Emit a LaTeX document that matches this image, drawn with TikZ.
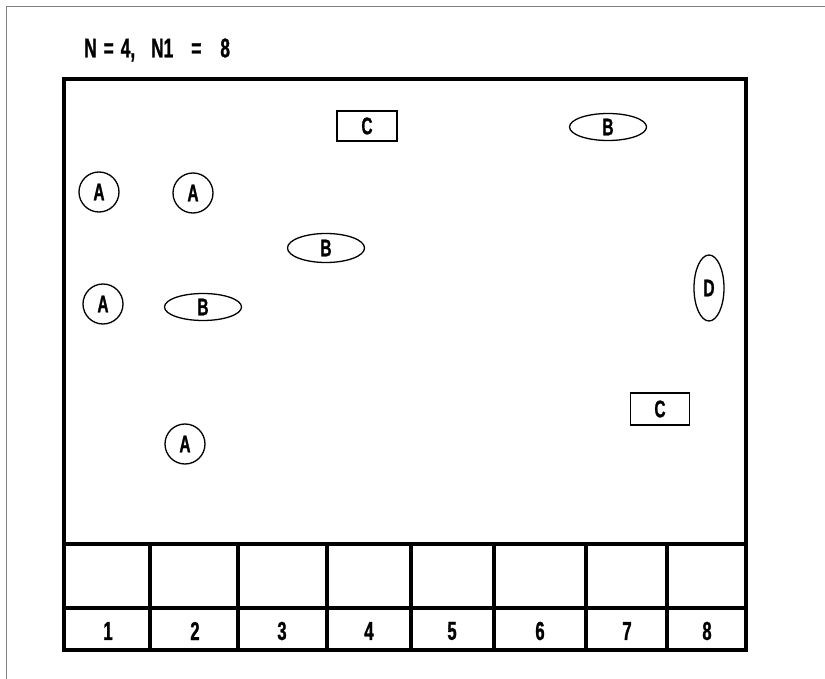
\documentclass[tikz,border=0pt]{standalone}
\usepackage{fontspec}
\newfontfamily\condfont[FakeStretch=0.64,FakeBold=1]{Liberation Sans}
\usetikzlibrary{shapes.geometric}

\begin{document}
\begin{tikzpicture}[x=1pt,y=-1pt,line join=miter,
  lbl/.style={font=\condfont\bfseries\fontsize{24}{24}\selectfont,inner sep=0pt},
  circ/.style={lbl,circle,draw,line width=1.3pt,minimum size=40pt},
  oval/.style={lbl,ellipse,draw,line width=1.3pt,minimum width=77pt,minimum height=27pt},
  sq/.style={lbl,rectangle,draw,line width=1.3pt,minimum width=60pt,minimum height=30pt}]
  \useasboundingbox (0,0) rectangle (825,679);

  % Page frame
  \draw[gray,line width=0.6pt] (6,679) -- (6,6) -- (825,6);

  % Heading
  \node[anchor=west,inner sep=0pt,font=\condfont\bfseries\fontsize{27}{27}\selectfont] (title) at (84,50)
    {N\hspace{7pt}=\hspace{7pt}4,\hspace{16pt}N1\hspace{18pt}=\hspace{19pt}8};

  % Main box and bins
  \def\top{79}
  \def\bot{650}
  \def\rowa{544}
  \def\rowb{608}
  \draw[line width=3.2pt] (64,\top) rectangle (746,\bot);
  \draw[line width=3.2pt] (64,\rowa) -- (746,\rowa);
  \draw[line width=3.2pt] (64,\rowb) -- (746,\rowb);
  \foreach \xa in {150,238,327,411,494,586,667}
    \draw[line width=3.2pt] (\xa,\rowa) -- (\xa,\bot);

  % Bin numbers
  \foreach \i/\xc in {1/108,2/195,3/282,4/369,5/452,6/540,7/627,8/707}
    \node[font=\condfont\bfseries\fontsize{26}{26}\selectfont] (n\i) at (\xc,631) {\i};

  % Items
  \node[sq] (c1) at (367,126) {C};
  \node[oval] (b1) at (608,127) {B};
  \node[circ] (a1) at (99,192) {A};
  \node[circ] (a2) at (193,193) {A};
  \node[oval,minimum height=29pt] (b2) at (326,248) {B};
  \node[circ] (a3) at (103,304) {A};
  \node[oval] (b3) at (203,307) {B};
  \node[oval,minimum width=30pt,minimum height=66pt] (d1) at (709,288) {D};
  \node[sq,minimum width=59pt,minimum height=32pt] (c2) at (660,409) {C};
  \node[circ] (a4) at (185,444) {A};
\end{tikzpicture}
\end{document}
